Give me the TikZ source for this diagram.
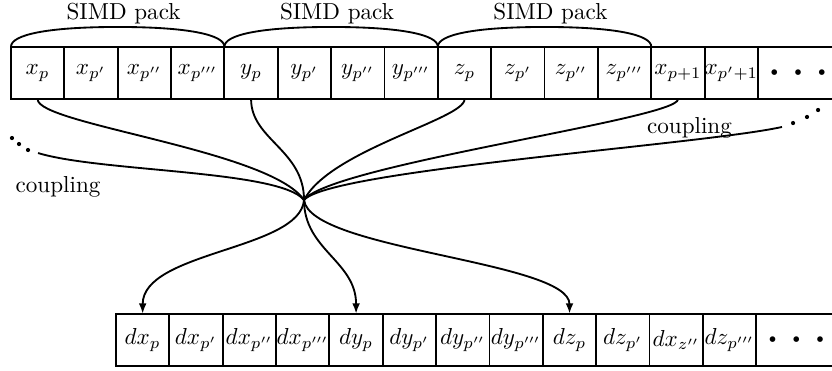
\documentclass[tikz,border=0pt]{standalone}
\usetikzlibrary{arrows.meta, positioning}

\tikzset{
  cell/.style={draw, thick, minimum width=0.811cm, minimum height=0.8cm,
               inner sep=0pt, outer sep=0pt},
  lastcell/.style={cell, draw=none, minimum width=1.216cm},
  link/.style={thick},
  feed/.style={thick, -{Latex[length=4.5pt, width=3.4pt]}},
  packlabel/.style={anchor=south, inner sep=1pt},
}
\newcommand{\celldots}{$\scriptscriptstyle\bullet\hspace{6.6pt}\bullet\hspace{6.6pt}\bullet$}

\begin{document}
\begin{tikzpicture}
\useasboundingbox (0,0) rectangle (12.646,5.624);
\clip (0,0) rectangle (12.646,5.624);

% input array
\foreach \lbl [count=\i] in {x_p, x_{p'}, x_{p''}, x_{p'''}, y_p, y_{p'}, y_{p''}, y_{p'''},
                             z_p, z_{p'}, z_{p''}, z_{p'''}, x_{p+1}, x_{p'+1}}
  \node[cell] (t\i) at ({0.167+0.811*(\i-0.5)},4.514) {$\lbl$};
\node[lastcell, right=0pt of t14] (t15) {\celldots};
\draw[link] (t15.north west) -- ([xshift=0.3cm]t15.north east)
            (t15.south west) -- ([xshift=0.3cm]t15.south east);

% output array
\foreach \lbl [count=\i] in {dx_p, dx_{p'}, dx_{p''}, dx_{p'''}, dy_p, dy_{p'}, dy_{p''}, dy_{p'''},
                             dz_p, dz_{p'}, dx_{z''}, dz_{p'''}}
  \node[cell] (b\i) at ({1.763+0.811*(\i-0.5)},0.456) {$\lbl$};
\node[lastcell, right=0pt of b12] (b13) {\celldots};
\draw[link] (b13.north west) -- ([xshift=0.3cm]b13.north east)
            (b13.south west) -- ([xshift=0.3cm]b13.south east);

% SIMD packs
\foreach \g in {0,1,2} {
  \pgfmathtruncatemacro\first{4*\g+1}
  \pgfmathtruncatemacro\last{4*\g+4}
  \path (t\first.north west) -- (t\last.north east) coordinate[pos=0.5] (mid\g);
  \coordinate (peak\g) at ([yshift=0.3cm]mid\g);
  \draw[link] (t\first.north west) .. controls +(0,0.18) and +(-1.08,0) .. (peak\g)
              .. controls +(1.08,0) and +(0,0.18) .. (t\last.north east);
  \node[packlabel] (pack\g) at ([xshift=0.09cm]peak\g) {SIMD pack};
}

% kernel
\coordinate (hub) at (4.621,2.584);
\coordinate (lend) at (0.578,3.298);
\coordinate (rend) at (11.886,3.694);

\foreach \p in {(0.182,3.526), (0.289,3.435), (0.426,3.344),
                (12.054,3.754), (12.266,3.846), (12.434,3.952)}
  \fill \p circle (0.032);

\draw[link] (t1.south) .. controls +(0,-0.38) and (4.104,3.344) .. (hub);
\draw[link] (t5.south) .. controls +(0,-0.61) and +(0,0.76) .. (hub);
\draw[link] (t9.south) .. controls +(0,-0.3) and (5.016,3.344) .. (hub);
\draw[link] (t13.south) .. controls +(0,-0.3) and (5.016,3.116) .. (hub);
\draw[link] (rend) .. controls (10.64,3.42) and (5.016,3.04) .. (hub);
\draw[link] (lend) .. controls (1.52,3.01) and (4.256,3.04) .. (hub);

\draw[feed] (hub) .. controls +(-0.06,-0.76) and +(0,0.95) .. (b1.north);
\draw[feed] (hub) .. controls +(0,-0.76) and +(0,0.8) .. (b5.north);
\draw[feed] (hub) .. controls +(0.09,-0.76) and +(0,0.8) .. (b9.north);

\node (lcoup) at (0.882,2.789) {coupling};
\node (rcoup) at (10.48,3.678) {coupling};
\end{tikzpicture}
\end{document}
